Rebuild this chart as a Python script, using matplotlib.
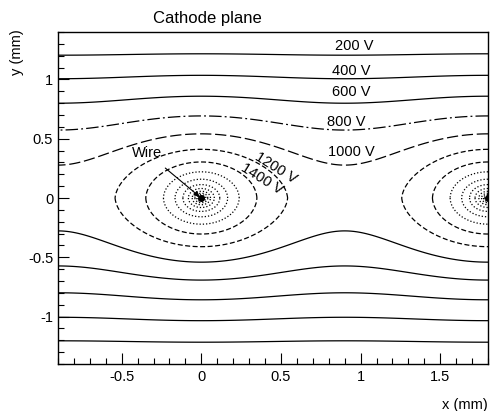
import matplotlib
matplotlib.use('Agg')
import matplotlib.pyplot as plt
import numpy as np
from matplotlib.ticker import MultipleLocator, FuncFormatter

plt.rc('font', **{'family': 'sans-serif', 'sans-serif': ['Liberation Sans', 'DejaVu Sans']})

# geometry (mm)
wire_x = [0.0, 1.8]          # wire positions
wire_pitch = 1.8
plane_gap = 1.4              # cathode planes at +-1.4 mm
field_lin = 1055.0           # V per mm, uniform part
wire_coef = 286.5            # V, strength of the wire row term
wire_voltage = 3300.0

levels = [200, 400, 600, 800, 1000, 1200, 1400, 1600, 1800, 2000,
          2200, 2400, 2600, 2800, 3000, 3200]

# labels: text, x, y, rotation
level_labels = ['200 V', '400 V', '600 V', '800 V', '1000 V', '1200 V', '1400 V']
label_x = [0.96, 0.94, 0.94, 0.91, 0.94, 0.47, 0.38]
label_y = [1.28, 1.07, 0.89, 0.64, 0.39, 0.25, 0.16]
label_rot = [0, 0, 0, 0, 0, -32, -32]


def style(v, upper):
    if v >= 1600:
        return (0, (1, 1.6))
    if v >= 1200:
        return (0, (4, 2))
    if upper and v == 1000:
        return (0, (9, 3))
    if upper and v == 800:
        return (0, (10, 2.5, 1.5, 2.5))
    return 'solid'


def potential(X, Y):
    s, L = wire_pitch, plane_gap
    R = np.zeros_like(X)
    b = 2 * np.pi * X / s
    with np.errstate(divide='ignore', invalid='ignore'):
        for n in range(-6, 7):
            a = np.abs(2 * np.pi * (Y - 2 * n * L) / s)
            R += (-1) ** n * np.log(1 - 2 * np.cos(b) * np.exp(-a) + np.exp(-2 * a))
        V = field_lin * (L - np.abs(Y)) - wire_coef * R
    V = np.nan_to_num(V, nan=wire_voltage, posinf=wire_voltage)
    return np.minimum(V, wire_voltage)


fig = plt.figure(figsize=(4.91, 4.11), dpi=100)
ax = fig.add_axes([58 / 491, 1 - 364 / 411, (488 - 58) / 491, (364 - 32) / 411])

xs = np.linspace(-0.9, 1.8, 1400)
for ys, upper in [(np.linspace(0, 1.4, 800), True), (np.linspace(-1.4, 0, 800), False)]:
    X, Y = np.meshgrid(xs, ys)
    V = potential(X, Y)
    ax.contour(X, Y, V, levels=levels, colors='k', linewidths=0.9,
               linestyles=[style(v, upper) for v in levels])

ax.plot(wire_x, [0, 0], 'o', color='k', ms=4, clip_on=True)

for t, x, y, r in zip(level_labels, label_x, label_y, label_rot):
    ax.text(x, y, t, ha='center', va='center', rotation=r, fontsize=10.5)

ax.annotate('Wire', xy=(-0.01, 0.01), xytext=(-0.34, 0.38), fontsize=10.5,
            ha='center', va='center',
            arrowprops=dict(arrowstyle='-|>', color='k', lw=0.8,
                            shrinkA=6, shrinkB=0, mutation_scale=8))

ax.set_xlim(-0.9, 1.8)
ax.set_ylim(-1.4, 1.4)
ax.xaxis.set_major_locator(MultipleLocator(0.5))
ax.xaxis.set_minor_locator(MultipleLocator(0.1))
ax.yaxis.set_major_locator(MultipleLocator(0.5))
ax.yaxis.set_minor_locator(MultipleLocator(0.1))
fmt = FuncFormatter(lambda v, p: '%g' % round(v, 3))
ax.xaxis.set_major_formatter(fmt)
ax.yaxis.set_major_formatter(fmt)
ax.tick_params(which='both', direction='in', top=False, right=False, labelsize=10.5)
ax.tick_params(which='major', length=8, width=0.8)
ax.tick_params(which='minor', length=4, width=0.8)
ax.tick_params(axis='x', pad=4)
for sp in ax.spines.values():
    sp.set_linewidth(1.0)

fig.text(153 / 491, 1 - 18 / 411, 'Cathode plane', fontsize=12, va='center', ha='left')
fig.text(17 / 491, 1 - 52 / 411, 'y (mm)', fontsize=10.5, rotation=90, ha='center', va='center')
fig.text(488 / 491, 1 - 405 / 411, 'x (mm)', fontsize=10.5, ha='right', va='center')

fig.savefig('out.png', dpi=100)
